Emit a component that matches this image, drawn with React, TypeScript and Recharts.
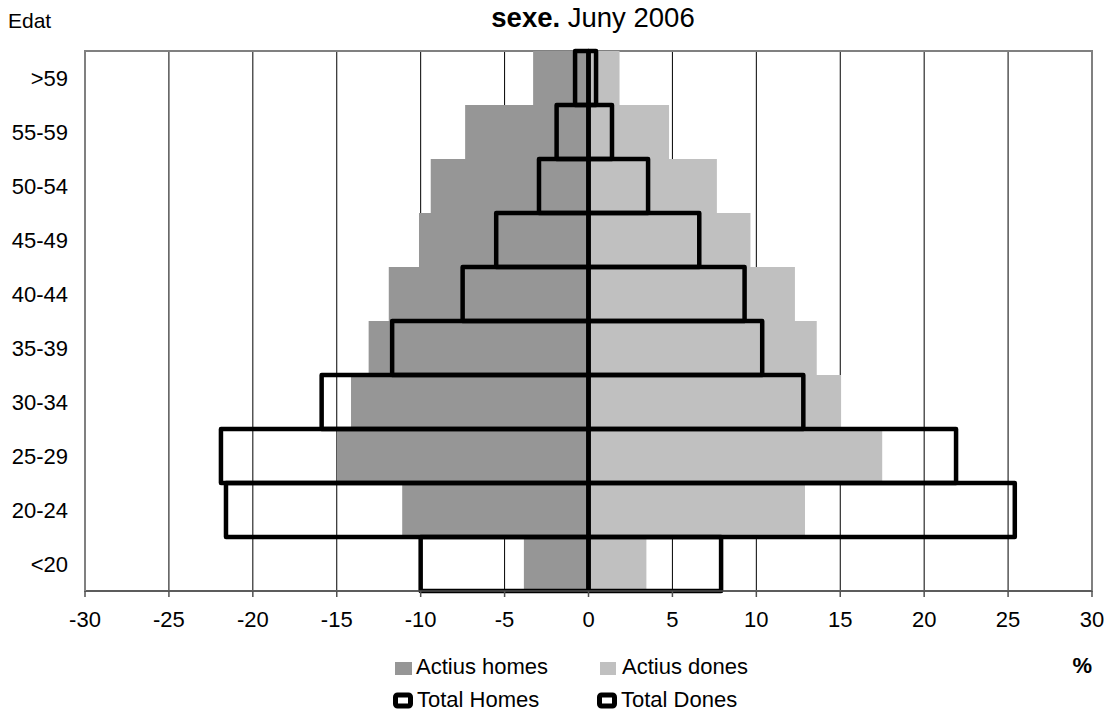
import { BarChart, Bar, XAxis, YAxis, CartesianGrid, ReferenceArea } from 'recharts'

// age groups, top to bottom
const ageGroups = ['>59', '55-59', '50-54', '45-49', '40-44', '35-39', '30-34', '25-29', '20-24', '<20']

// % values (men negative, women positive)
const activeMen = [-3.3, -7.35, -9.4, -10.1, -11.9, -13.1, -14.15, -15.0, -11.1, -3.85]
const activeWomen = [1.85, 4.8, 7.65, 9.65, 12.3, 13.6, 15.05, 17.5, 12.9, 3.45]
const totalMen = [-0.8, -1.9, -2.95, -5.5, -7.5, -11.7, -15.9, -21.9, -21.6, -10.0]
const totalWomen = [0.45, 1.4, 3.55, 6.6, 9.3, 10.35, 12.8, 21.9, 25.4, 7.9]

const xTicks = [-30, -25, -20, -15, -10, -5, 0, 5, 10, 15, 20, 25, 30]

const data = ageGroups.map((age, i) => ({
  age,
  activeMen: activeMen[i],
  activeWomen: activeWomen[i],
  totalMen: totalMen[i],
  totalWomen: totalWomen[i],
}))

const font = '"Liberation Sans", Arial, sans-serif'

export default function App() {
  return (
    <div style={{ position: 'absolute', left: 0, top: 0, width: 1107, height: 713, background: '#fff', fontFamily: font }}>
      <BarChart
        width={1107}
        height={713}
        data={data}
        layout="vertical"
        stackOffset="sign"
        barCategoryGap={0}
        barGap={0}
        margin={{ top: 51, right: 15, bottom: 82, left: 0 }}
      >
        <CartesianGrid horizontal={false} stroke="#000" strokeWidth={1} yAxisId="main" />
        <XAxis
          type="number"
          domain={[-30, 30]}
          ticks={xTicks}
          height={40}
          axisLine={{ stroke: '#505050', strokeWidth: 1.5 }}
          tickLine={{ stroke: '#505050', strokeWidth: 1.5 }}
          tickSize={6}
          tickMargin={14}
          tick={{ fontSize: 22, fill: '#000', fontFamily: font }}
        />
        <YAxis
          yAxisId="main"
          type="category"
          dataKey="age"
          width={85}
          tickLine={false}
          axisLine={{ stroke: '#808080', strokeWidth: 2 }}
          tickMargin={11}
          tick={{ fontSize: 22, fill: '#000', fontFamily: font }}
        />
        <YAxis yAxisId="tot" type="category" dataKey="age" hide />
        <ReferenceArea yAxisId="main" x1={-30} x2={30} fill="none" stroke="#808080" strokeWidth={2} ifOverflow="visible" />
        <Bar yAxisId="main" dataKey="activeMen" stackId="act" fill="#969696" isAnimationActive={false} />
        <Bar yAxisId="main" dataKey="activeWomen" stackId="act" fill="#c0c0c0" isAnimationActive={false} />
        <Bar
          yAxisId="tot"
          dataKey="totalMen"
          stackId="tot"
          fill="none"
          stroke="#000"
          strokeWidth={4.5}
          strokeLinejoin="round"
          isAnimationActive={false}
        />
        <Bar
          yAxisId="tot"
          dataKey="totalWomen"
          stackId="tot"
          fill="none"
          stroke="#000"
          strokeWidth={4.5}
          strokeLinejoin="round"
          isAnimationActive={false}
        />
      </BarChart>

      <svg width={1107} height={713} style={{ position: 'absolute', left: 0, top: 0, pointerEvents: 'none' }} fontFamily={font}>
        <text x={593} y={27} textAnchor="middle" fontSize={27.5} fill="#000">
          <tspan fontWeight="bold">sexe.</tspan> Juny 2006
        </text>
        <text x={8} y={28} fontSize={21} fill="#000">Edat</text>
        <text x={1092} y={673} textAnchor="end" fontSize={22} fontWeight="bold" fill="#000">%</text>

        {/* legend */}
        <rect x={395} y={662} width={17} height={13} fill="#969696" />
        <text x={416} y={674} fontSize={22} fill="#000">Actius homes</text>
        <rect x={600} y={662} width={16} height={13} fill="#c0c0c0" />
        <text x={622} y={674} fontSize={22} fill="#000">Actius dones</text>

        <rect x={395.5} y={695} width={15} height={11} rx={2} fill="#fff" stroke="#000" strokeWidth={5} />
        <text x={417} y={707} fontSize={22} fill="#000">Total Homes</text>
        <rect x={599.5} y={695} width={15} height={11} rx={2} fill="#fff" stroke="#000" strokeWidth={5} />
        <text x={621} y={707} fontSize={22} fill="#000">Total Dones</text>
      </svg>
    </div>
  )
}
